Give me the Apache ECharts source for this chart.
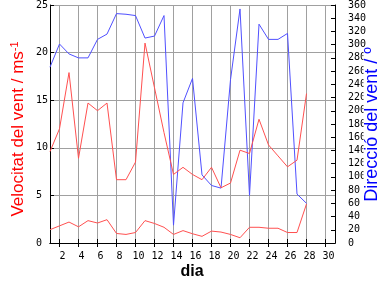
<!DOCTYPE html>
<html>
<head>
<meta charset="utf-8">
<script src="https://cdn.jsdelivr.net/npm/echarts@6/dist/echarts.min.js"></script>
<style>html,body{margin:0;padding:0;background:#fff}#c{width:384px;height:288px}</style>
</head>
<body>
<div id="c"></div>
<script>
var days = [1,2,3,4,5,6,7,8,9,10,11,12,13,14,15,16,17,18,19,20,21,22,23,24,25,26,27,28];
var gust = [9.6,12.0,17.9,8.9,14.7,13.9,14.7,6.65,6.65,8.5,21.0,16.3,11.6,7.2,7.95,7.2,6.65,7.95,5.8,6.3,9.75,9.4,13.0,10.3,9.15,8.0,8.7,15.7];
var meanSpeed = [1.4,1.8,2.2,1.7,2.35,2.1,2.45,1.0,0.9,1.1,2.35,2.05,1.65,0.9,1.3,0.97,0.7,1.25,1.15,0.9,0.55,1.65,1.65,1.55,1.55,1.1,1.1,4.1];
var direction = [266,301,286,280,280,308,316,347,346,344,310,313,344,27,212,249,103,87,83,247,354,72,331,308,308,317,74,60];
var xTicks = [2,4,6,8,10,12,14,16,18,20,22,24,26,28,30];

function pairs(vals){ return days.map(function(d,i){ return [d, vals[i]]; }); }

var mono = 'DejaVu Sans Mono';
var chart = echarts.init(document.getElementById('c'), null, {renderer:'canvas'});
chart.setOption({
  animation: false,
  backgroundColor: '#fff',
  grid: {left: 50, right: 49, top: 1, bottom: 45, containLabel: false},
  xAxis: [{
    type: 'value', min: 1, max: 31, position: 'bottom',
    axisLine: {show: true, lineStyle: {color: '#000', width: 1}},
    axisTick: {show: true, inside: true, length: 4, customValues: xTicks, lineStyle: {color: '#000'}},
    axisLabel: {customValues: xTicks, fontFamily: mono, fontSize: 10, color: '#000', margin: 8, padding: [0,0,0,6]},
    splitLine: {show: true, lineStyle: {color: '#a0a0a0', width: 1}}
  }, {
    type: 'value', min: 1, max: 31, position: 'top',
    axisLine: {show: true, lineStyle: {color: '#000', width: 1}},
    axisTick: {show: true, inside: true, length: 4, customValues: xTicks, lineStyle: {color: '#000'}},
    axisLabel: {show: false},
    splitLine: {show: false}
  }],
  yAxis: [{
    type: 'value', min: 0, max: 25, interval: 5, position: 'left',
    axisLine: {show: true, lineStyle: {color: '#000', width: 1}},
    axisTick: {show: true, inside: true, length: 4, lineStyle: {color: '#000'}},
    axisLabel: {fontFamily: mono, fontSize: 10, color: '#000', align: 'left', margin: 14},
    splitLine: {show: true, lineStyle: {color: '#a0a0a0', width: 1}}
  }, {
    type: 'value', min: 0, max: 360, interval: 20, position: 'right',
    axisLine: {show: true, lineStyle: {color: '#000', width: 1}},
    axisTick: {show: true, inside: true, length: 4, lineStyle: {color: '#000'}},
    axisLabel: {fontFamily: mono, fontSize: 10, color: '#000', align: 'left', margin: 13},
    splitLine: {show: false}
  }],
  series: [
    {type: 'line', xAxisIndex: 0, yAxisIndex: 1, data: pairs(direction), symbol: 'none', lineStyle: {color: '#5050ff', width: 1}, itemStyle: {color: '#5050ff'}},
    {type: 'line', xAxisIndex: 0, yAxisIndex: 0, data: pairs(gust), symbol: 'none', lineStyle: {color: '#ff5050', width: 1}, itemStyle: {color: '#ff5050'}},
    {type: 'line', xAxisIndex: 0, yAxisIndex: 0, data: pairs(meanSpeed), symbol: 'none', lineStyle: {color: '#ff5050', width: 1}, itemStyle: {color: '#ff5050'}}
  ],
  graphic: [
    {type: 'text', x: 18, y: 129, rotation: Math.PI/2, z: 100,
     style: {text: '{a|Velocitat del vent / ms}{b|-1}', fill: '#ff0000', align: 'center', verticalAlign: 'middle', textAlign: 'center', textVerticalAlign: 'middle',
       rich: {a: {fontFamily: 'Liberation Sans', fontSize: 17, fill: '#ff0000', color: '#ff0000'},
              b: {fontFamily: 'Liberation Sans', fontSize: 11, fill: '#ff0000', color: '#ff0000', verticalAlign: 'top'}}}},
    {type: 'text', x: 372.5, y: 124.5, rotation: Math.PI/2, z: 100,
     style: {text: 'Direcció del vent / º', font: '18px "Liberation Sans"', fill: '#0000ff', align: 'center', verticalAlign: 'middle', textAlign: 'center', textVerticalAlign: 'middle',
       backgroundColor: '#fff', lineHeight: 18}},
    {type: 'text', x: 192, y: 272, z: 100,
     style: {text: 'dia', font: 'bold 16px "Liberation Sans"', fill: '#000', align: 'center', verticalAlign: 'middle', textAlign: 'center', textVerticalAlign: 'middle'}}
  ]
});
</script>
</body>
</html>
